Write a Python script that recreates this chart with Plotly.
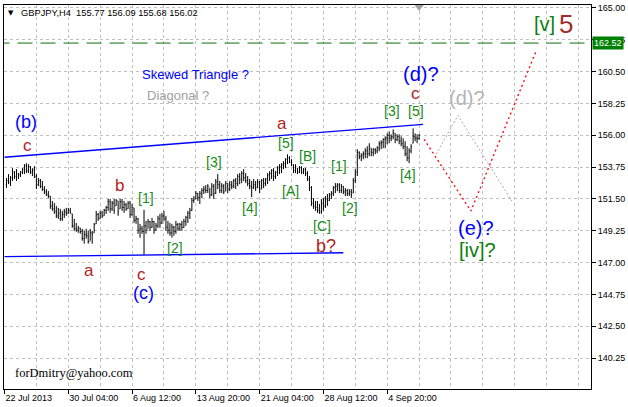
import plotly.graph_objects as go

# ---------------- data (GBPJPY H4 bars) ----------------
bar_index = list(range(1, 209))

opens = [152.50, 152.80, 152.70, 153.00, 153.40, 153.10, 153.30, 153.20, 153.40, 153.60,
         153.85, 153.50, 153.80, 153.40, 153.55, 153.10, 152.50, 152.80, 152.40, 152.20,
         152.00, 151.80, 151.70, 151.00, 150.80, 150.60, 150.30, 150.50, 150.10, 150.40,
         150.60, 150.50, 150.70, 150.45, 149.60, 149.40, 149.30, 149.45, 149.20, 148.70,
         149.00, 148.90, 148.50, 149.10, 149.11, 149.74, 150.40, 150.10, 150.50, 150.31,
         150.70, 150.90, 151.30, 150.80, 151.20, 151.01, 151.36, 150.80, 151.30, 150.90,
         151.10, 150.80, 151.20, 150.40, 150.87, 150.00, 150.10, 149.30, 149.40, 149.20,
         149.60, 149.30, 149.90, 149.50, 149.90, 149.30, 149.60, 150.10, 149.80, 150.30,
         150.10, 149.50, 149.30, 149.10, 149.50, 149.20, 149.70, 149.40, 149.70, 149.50,
         149.90, 150.20, 150.50, 150.70, 151.40, 151.50, 151.90, 151.60, 151.90, 152.10,
         152.20, 152.10, 152.27, 151.80, 152.40, 151.90, 152.70, 152.50, 152.10, 152.40,
         152.06, 152.60, 152.20, 152.50, 152.40, 152.80, 152.60, 153.10, 152.90, 153.30,
         153.00, 152.80, 152.60, 152.40, 152.30, 152.50, 152.30, 152.70, 152.20, 152.80,
         152.60, 152.90, 153.20, 153.30, 153.50, 153.10, 153.40, 153.70, 153.80, 153.90,
         154.00, 154.30, 154.40, 154.10, 153.90, 153.50, 153.68, 153.40, 153.70, 153.40,
         153.60, 153.30, 152.90, 152.30, 151.20, 151.00, 150.90, 150.70, 150.60, 151.20,
         151.00, 151.50, 151.40, 151.80, 151.90, 152.30, 152.40, 152.50, 152.10, 152.40,
         152.00, 152.10, 151.90, 152.00, 151.92, 152.80, 153.40, 154.80, 154.50, 154.60,
         154.70, 154.90, 154.70, 155.09, 154.80, 155.00, 154.90, 155.10, 155.40, 155.50,
         155.70, 155.80, 156.00, 155.80, 155.90, 156.14, 155.70, 155.90, 155.60, 155.40,
         155.20, 154.70, 154.40, 154.90, 155.44, 155.90, 155.80, 155.77]

highs = [152.98, 153.26, 153.12, 153.68, 153.47, 153.61, 153.33, 153.47, 153.68, 153.96,
         154.03, 153.96, 153.82, 153.68, 153.82, 153.26, 152.98, 152.91, 152.77, 152.41,
         152.20, 152.06, 151.71, 151.36, 151.22, 151.01, 150.87, 150.80, 150.66, 150.80,
         150.87, 150.87, 150.87, 150.45, 150.09, 149.81, 149.60, 149.46, 149.39, 149.25,
         149.39, 149.25, 149.39, 149.25, 149.81, 150.66, 150.52, 150.66, 150.66, 150.80,
         151.01, 151.50, 151.50, 151.36, 151.50, 151.50, 151.36, 151.50, 151.50, 151.36,
         151.22, 151.36, 151.36, 151.15, 150.87, 150.31, 150.16, 149.74, 149.60, 150.73,
         149.95, 150.09, 149.95, 150.16, 149.95, 149.81, 150.31, 150.45, 150.52, 150.66,
         150.31, 149.95, 149.81, 149.74, 149.60, 149.95, 149.81, 149.81, 149.95, 150.09,
         150.31, 150.66, 150.87, 151.57, 151.71, 152.06, 151.92, 152.06, 152.27, 152.41,
         152.48, 152.55, 152.27, 152.62, 152.55, 152.91, 153.26, 152.77, 152.62, 152.55,
         152.77, 152.62, 152.77, 152.77, 152.91, 152.98, 153.26, 153.33, 153.47, 153.61,
         153.33, 153.12, 152.91, 152.77, 152.91, 152.77, 152.91, 152.77, 152.91, 152.98,
         152.98, 153.33, 153.47, 153.61, 153.68, 153.47, 153.82, 153.96, 154.03, 154.17,
         154.38, 154.66, 154.52, 154.31, 153.96, 153.96, 153.68, 153.82, 153.82, 153.68,
         153.68, 153.47, 153.12, 152.41, 151.57, 151.36, 151.36, 151.15, 151.50, 151.57,
         151.71, 151.85, 151.92, 152.06, 152.41, 152.62, 152.62, 152.62, 152.55, 152.41,
         152.27, 152.20, 152.20, 152.20, 152.98, 153.61, 155.02, 154.87, 154.73, 154.87,
         155.09, 155.23, 155.44, 155.09, 155.09, 155.09, 155.23, 155.58, 155.65, 155.79,
         155.93, 156.14, 156.28, 156.07, 156.42, 156.14, 156.07, 156.07, 155.93, 155.79,
         155.58, 155.23, 155.09, 155.37, 156.49, 156.14, 156.07, 156.09]

lows = [152.27, 152.55, 152.41, 152.77, 152.91, 152.77, 152.91, 153.05, 153.26, 153.26,
        153.33, 153.33, 153.26, 153.12, 152.98, 152.20, 152.41, 152.27, 152.06, 151.85,
        151.71, 151.57, 150.80, 150.66, 150.45, 150.16, 150.09, 149.95, 149.95, 150.16,
        150.31, 150.45, 150.45, 149.46, 149.25, 149.18, 149.11, 149.04, 148.55, 148.34,
        148.69, 148.34, 148.55, 148.34, 149.11, 149.74, 149.95, 150.09, 150.16, 150.31,
        150.45, 150.66, 150.52, 150.66, 150.45, 151.01, 150.31, 150.80, 150.66, 150.52,
        150.66, 150.80, 150.16, 150.31, 149.81, 149.74, 149.04, 148.76, 149.04, 147.56,
        149.04, 149.39, 149.25, 149.46, 149.04, 149.25, 149.46, 149.46, 149.74, 149.95,
        149.25, 149.04, 148.90, 148.76, 148.90, 149.04, 149.25, 149.25, 149.25, 149.46,
        149.60, 149.81, 150.09, 150.66, 151.22, 151.50, 151.36, 151.15, 151.57, 151.85,
        151.92, 151.92, 151.57, 151.71, 151.50, 151.85, 152.20, 151.92, 151.92, 151.85,
        152.06, 151.92, 152.06, 152.20, 152.27, 152.20, 152.41, 152.55, 152.62, 152.77,
        152.62, 152.41, 152.20, 151.64, 152.20, 152.06, 152.27, 151.92, 152.20, 152.27,
        152.41, 152.55, 152.77, 152.91, 152.77, 152.91, 153.12, 153.26, 153.33, 153.61,
        153.68, 153.96, 154.03, 153.82, 153.33, 153.33, 153.26, 153.33, 153.26, 153.26,
        153.12, 152.77, 152.06, 151.01, 150.80, 150.66, 150.52, 150.45, 150.45, 150.66,
        150.87, 151.01, 151.36, 151.50, 151.71, 151.92, 152.06, 151.92, 151.92, 151.85,
        151.71, 151.71, 151.71, 151.57, 151.92, 152.62, 153.12, 154.31, 154.17, 154.31,
        154.38, 154.38, 154.52, 154.52, 154.52, 154.66, 154.73, 154.87, 155.02, 155.09,
        155.09, 155.37, 155.44, 155.58, 155.72, 155.44, 155.58, 155.37, 155.23, 155.02,
        154.52, 154.17, 154.03, 154.73, 155.44, 155.58, 155.44, 155.68]

closes = [152.80, 152.70, 153.00, 153.40, 153.10, 153.45, 153.20, 153.40, 153.60, 153.85,
          153.50, 153.80, 153.40, 153.55, 153.10, 152.50, 152.80, 152.40, 152.20, 152.00,
          151.80, 151.70, 151.00, 150.80, 150.60, 150.30, 150.50, 150.10, 150.40, 150.60,
          150.50, 150.70, 150.55, 149.60, 149.40, 149.30, 149.45, 149.20, 148.70, 149.00,
          148.90, 148.50, 149.10, 149.00, 149.70, 150.40, 150.10, 150.50, 150.30, 150.70,
          150.90, 151.30, 150.80, 151.20, 150.70, 151.40, 150.60, 151.30, 150.90, 151.10,
          150.80, 151.20, 150.40, 150.90, 150.00, 150.10, 149.30, 149.40, 149.20, 149.60,
          149.30, 149.90, 149.50, 149.90, 149.30, 149.60, 150.10, 149.80, 150.30, 150.10,
          149.50, 149.30, 149.10, 149.50, 149.20, 149.70, 149.40, 149.70, 149.50, 149.90,
          150.20, 150.50, 150.70, 151.40, 151.50, 151.90, 151.60, 151.90, 152.10, 152.20,
          152.10, 152.40, 151.80, 152.40, 151.90, 152.70, 152.50, 152.10, 152.40, 152.00,
          152.60, 152.20, 152.50, 152.40, 152.80, 152.60, 153.10, 152.90, 153.30, 153.00,
          152.80, 152.60, 152.40, 152.30, 152.50, 152.30, 152.70, 152.20, 152.80, 152.60,
          152.90, 153.20, 153.30, 153.50, 153.10, 153.40, 153.70, 153.80, 153.90, 154.00,
          154.30, 154.40, 154.10, 153.90, 153.50, 153.80, 153.40, 153.70, 153.40, 153.60,
          153.30, 152.90, 152.30, 151.20, 151.00, 150.90, 150.70, 150.60, 151.20, 151.00,
          151.50, 151.40, 151.80, 151.90, 152.30, 152.40, 152.50, 152.10, 152.40, 152.00,
          152.10, 151.90, 152.00, 151.80, 152.80, 153.40, 154.80, 154.50, 154.60, 154.70,
          154.90, 154.70, 155.20, 154.80, 155.00, 154.90, 155.10, 155.40, 155.50, 155.70,
          155.80, 156.00, 155.80, 155.90, 156.20, 155.70, 155.90, 155.60, 155.40, 155.20,
          154.70, 154.40, 154.90, 155.20, 155.90, 155.80, 155.77, 156.02]

# x-axis labels (bar index -> time text)
date_ticks = [0, 32, 64, 96, 128, 160, 192]
date_labels = ["22 Jul 2013", "30 Jul 04:00", "6 Aug 12:00", "13 Aug 20:00",
               "21 Aug 04:00", "28 Aug 12:00", "4 Sep 20:00"]

# trend lines of the triangle
upper_x = [0, 210]
upper_y = [154.45, 156.77]
lower_x = [0, 170]
lower_y = [147.42, 147.70]

# forecast paths
red_x = [210.5, 234, 267]
red_y = [155.72, 150.65, 162.05]
gray_x = [216.5, 227.5, 254.5]
gray_y = [154.66, 157.40, 151.36]

target_price = 162.52
last_bar = 208

# ---------------- figure ----------------
fig = go.Figure()

fig.add_trace(go.Ohlc(
    x=bar_index, open=opens, high=highs, low=lows, close=closes,
    increasing=dict(line=dict(color="black", width=1)),
    decreasing=dict(line=dict(color="black", width=1)),
    tickwidth=0.35, showlegend=False, hoverinfo="skip"))

fig.add_trace(go.Scatter(x=[-5, 300], y=[target_price, target_price], mode="lines",
                         line=dict(color="#0a700a", width=1, dash="15px,8px"),
                         showlegend=False, hoverinfo="skip"))
fig.add_trace(go.Scatter(x=upper_x, y=upper_y, mode="lines",
                         line=dict(color="#0000ff", width=1.3), showlegend=False, hoverinfo="skip"))
fig.add_trace(go.Scatter(x=lower_x, y=lower_y, mode="lines",
                         line=dict(color="#0000ff", width=1.3), showlegend=False, hoverinfo="skip"))
fig.add_trace(go.Scatter(x=gray_x, y=gray_y, mode="lines",
                         line=dict(color="#a8a8a8", width=1, dash="2px,2px"),
                         showlegend=False, hoverinfo="skip"))
fig.add_trace(go.Scatter(x=red_x, y=red_y, mode="lines",
                         line=dict(color="#ff0000", width=1.3, dash="2px,3px"),
                         showlegend=False, hoverinfo="skip"))
# chart-shift marker at the top, above the last bar
fig.add_trace(go.Scatter(x=[last_bar], y=[165.07], mode="markers",
                         marker=dict(symbol="triangle-down", size=8, color="#a0a0a0"),
                         cliponaxis=False, showlegend=False, hoverinfo="skip"))

BLUE = "#0000ff"
RED = "#b22222"
GRN = "#1a8a1a"

labels = [
    ("Skewed Triangle ?", 96, 160.29, BLUE, 13),
    ("Diagonal ?", 87, 158.81, "#a0a0a0", 13),
    ("(b)", 11, 156.91, BLUE, 18),
    ("c", 11.5, 155.29, RED, 17),
    ("b", 57.5, 152.48, RED, 17),
    ("a", 42.5, 146.43, RED, 17),
    ("c", 68.5, 146.15, RED, 17),
    ("(c)", 69.5, 144.89, BLUE, 18),
    ("[1]", 71, 151.57, GRN, 14),
    ("[2]", 85.5, 148.05, GRN, 14),
    ("[3]", 105, 154.10, GRN, 14),
    ("[4]", 123, 150.86, GRN, 14),
    ("a", 139, 156.84, RED, 17),
    ("[5]", 141, 155.43, GRN, 14),
    ("[B]", 152, 154.52, GRN, 14),
    ("[A]", 143.5, 152.06, GRN, 14),
    ("[C]", 159.5, 149.60, GRN, 14),
    ("b?", 161.5, 148.19, RED, 18),
    ("[1]", 168, 153.82, GRN, 14),
    ("[2]", 173.5, 150.86, GRN, 14),
    ("[3]", 194.5, 157.69, GRN, 14),
    ("[5]", 206.5, 157.69, GRN, 14),
    ("[4]", 202.5, 153.18, GRN, 14),
    ("c", 206, 158.95, RED, 17),
    ("(d)?", 209, 160.36, BLUE, 20),
    ("(d)?", 232, 158.67, "#b4b4b4", 20),
    ("(e)?", 236.5, 149.46, BLUE, 20),
    ("[iv]?", 237.5, 147.91, "#0a800a", 20),
    ("[v]", 271, 163.87, "#0a800a", 20),
    ("5", 281.5, 163.87, "#a52a2a", 26),
]

annotations = []
for text, x, y, color, size in labels:
    annotations.append(dict(x=x, y=y, xref="x", yref="y", text=text, showarrow=False,
                            xanchor="center", yanchor="middle",
                            font=dict(family="Liberation Sans, Arial", size=size, color=color)))

annotations.append(dict(x=3.5, y=164.65, xref="x", yref="y", text="▼", showarrow=False,
                        xanchor="center", yanchor="middle",
                        font=dict(family="DejaVu Sans", size=7, color="black")))
annotations.append(dict(x=7.5, y=164.65, xref="x", yref="y",
                        text="GBPJPY,H4  155.77 156.09 155.68 156.02", showarrow=False,
                        xanchor="left", yanchor="middle",
                        font=dict(family="Liberation Sans, Arial", size=9.3, color="black")))
annotations.append(dict(x=4.5, y=139.19, xref="x", yref="y", text="forDmitry@yahoo.com",
                        showarrow=False, xanchor="left", yanchor="middle",
                        font=dict(family="Liberation Serif, Times New Roman", size=12.5, color="black")))
annotations.append(dict(x=1, y=target_price, xref="paper", yref="y", text="162.52",
                        showarrow=False, xanchor="left", yanchor="middle", xshift=1,
                        bgcolor="#008000", borderpad=1,
                        font=dict(family="Liberation Sans, Arial", size=9, color="white")))

grid_style = dict(gridcolor="#c0c0c0", griddash="3px,3px", gridwidth=1)

fig.update_layout(
    width=628, height=407,
    margin=dict(l=3, r=36, t=3, b=18),
    paper_bgcolor="white", plot_bgcolor="white",
    showlegend=False,
    annotations=annotations,
    xaxis=dict(range=[-0.25, 294.25], rangeslider=dict(visible=False),
               tickmode="array", tickvals=date_ticks, ticktext=date_labels,
               ticks="outside", ticklen=4, tickcolor="black",
               ticklabelposition="outside right",
               tickfont=dict(family="Liberation Sans, Arial", size=9, color="black"),
               showline=True, linecolor="black", linewidth=1, mirror=True,
               showgrid=True, **grid_style,
               minor=dict(tickmode="array", tickvals=list(range(0, 289, 16)),
                          showgrid=True, ticks="", **grid_style),
               zeroline=False, fixedrange=True),
    yaxis=dict(range=[138.07, 165.21], side="right",
               tick0=140.25, dtick=2.25, tickformat=".2f",
               ticks="outside", ticklen=4, tickcolor="black",
               tickfont=dict(family="Liberation Sans, Arial", size=9, color="black"),
               showline=True, linecolor="black", linewidth=1, mirror=True,
               showgrid=True, **grid_style,
               zeroline=False, fixedrange=True),
)

fig.write_html("out.html", config={"displayModeBar": False},
               post_script="document.body.style.margin='0';document.body.style.overflow='hidden';")
